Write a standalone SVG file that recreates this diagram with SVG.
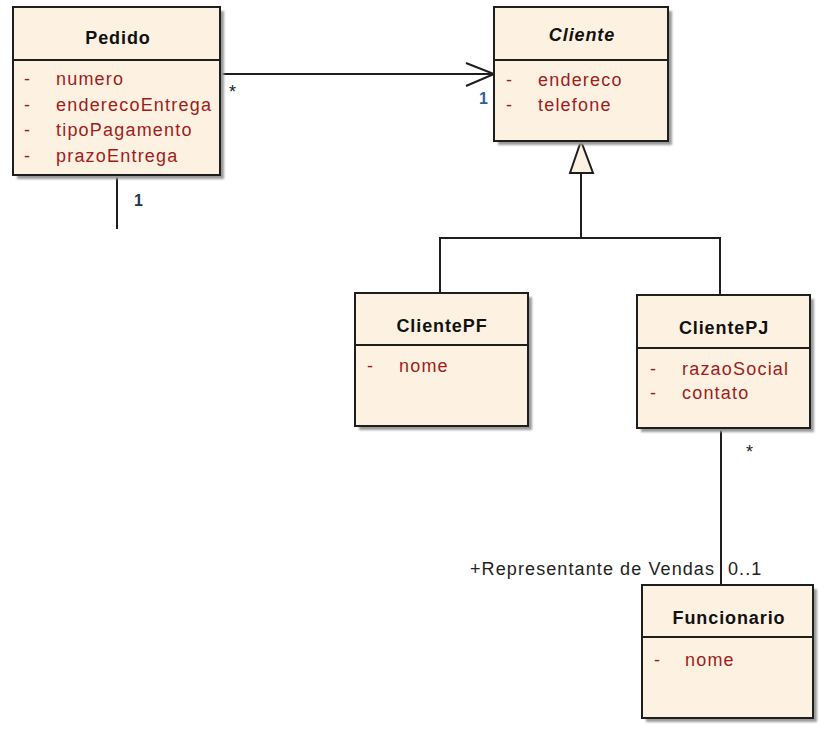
<svg xmlns="http://www.w3.org/2000/svg" width="829" height="733" viewBox="0 0 829 733">
<defs>
<filter id="sh" x="-10%" y="-10%" width="130%" height="130%"><feGaussianBlur stdDeviation="1.2"/></filter>
<style>
.box{fill:#fdf2e1;stroke:#1e1e1e;stroke-width:2}
.shadow{fill:#9a9a9a;filter:url(#sh)}
.div{stroke:#1e1e1e;stroke-width:2}
.title{font-family:"Liberation Sans",Arial,sans-serif;font-size:18px;font-weight:bold;fill:#111;text-anchor:middle;letter-spacing:0.9px}
.attr{font-family:"Liberation Sans",Arial,sans-serif;font-size:18px;fill:#a01c1c;letter-spacing:1.2px}
.lbl{font-family:"Liberation Sans",Arial,sans-serif;font-size:18px;fill:#222;letter-spacing:1.1px}
.conn{stroke:#1e1e1e;stroke-width:2;fill:none}
</style>
</defs>
<g id="connectors">
<line class="conn" x1="220" y1="74" x2="494" y2="74"/>
<polyline class="conn" points="466,63 494,74 466,86"/>
<line class="conn" x1="117" y1="175" x2="117" y2="229"/>
<polygon points="581,141 570,173 593,173" fill="#fdf2e1" stroke="#1e1e1e" stroke-width="2"/>
<line class="conn" x1="581" y1="173" x2="581" y2="238"/>
<polyline class="conn" points="440,293 440,238 720,238 720,295"/>
<line class="conn" x1="721" y1="428" x2="721" y2="585"/>
<text class="lbl" x="229" y="98" font-size="14">*</text>
<text x="479" y="104" font-family="Liberation Sans,Arial,sans-serif" font-size="16" font-weight="bold" fill="#2f5f9a">1</text>
<text x="134" y="206" font-family="Liberation Sans,Arial,sans-serif" font-size="16" font-weight="bold" fill="#1f3550">1</text>
<text class="lbl" x="746" y="458" font-size="14">*</text>
<text class="lbl" x="470" y="575">+Representante de Vendas</text>
<text class="lbl" x="728" y="575">0..1</text>
</g>
<g id="Pedido">
<rect class="shadow" x="17" y="11" width="207" height="168"/>
<rect class="box" x="13" y="7" width="207" height="168"/>
<line class="div" x1="13" y1="60" x2="220" y2="60"/>
<text class="title" x="118" y="44">Pedido</text>
<text class="attr" x="24" y="85">-</text><text class="attr" x="56" y="85">numero</text>
<text class="attr" x="24" y="111">-</text><text class="attr" x="56" y="111">enderecoEntrega</text>
<text class="attr" x="24" y="136">-</text><text class="attr" x="56" y="136">tipoPagamento</text>
<text class="attr" x="24" y="162">-</text><text class="attr" x="56" y="162">prazoEntrega</text>
</g>
<g id="Cliente">
<rect class="shadow" x="498" y="11" width="174" height="134"/>
<rect class="box" x="494" y="7" width="174" height="134"/>
<line class="div" x1="494" y1="60" x2="668" y2="60"/>
<text class="title" x="582" y="41" font-style="italic">Cliente</text>
<text class="attr" x="506" y="86">-</text><text class="attr" x="538" y="86">endereco</text>
<text class="attr" x="506" y="111">-</text><text class="attr" x="538" y="111">telefone</text>
</g>
<g id="ClientePF">
<rect class="shadow" x="359" y="297" width="173" height="133"/>
<rect class="box" x="355" y="293" width="173" height="133"/>
<line class="div" x1="355" y1="345" x2="528" y2="345"/>
<text class="title" x="442" y="332">ClientePF</text>
<text class="attr" x="367" y="372">-</text><text class="attr" x="399" y="372">nome</text>
</g>
<g id="ClientePJ">
<rect class="shadow" x="641" y="299" width="173" height="133"/>
<rect class="box" x="637" y="295" width="173" height="133"/>
<line class="div" x1="637" y1="348" x2="810" y2="348"/>
<text class="title" x="724" y="334">ClientePJ</text>
<text class="attr" x="650" y="375">-</text><text class="attr" x="682" y="375">razaoSocial</text>
<text class="attr" x="650" y="399">-</text><text class="attr" x="682" y="399">contato</text>
</g>
<g id="Funcionario">
<rect class="shadow" x="646" y="589" width="171" height="133"/>
<rect class="box" x="642" y="585" width="171" height="133"/>
<line class="div" x1="642" y1="637" x2="813" y2="637"/>
<text class="title" x="729" y="624">Funcionario</text>
<text class="attr" x="654" y="666">-</text><text class="attr" x="685" y="666">nome</text>
</g>
</svg>
